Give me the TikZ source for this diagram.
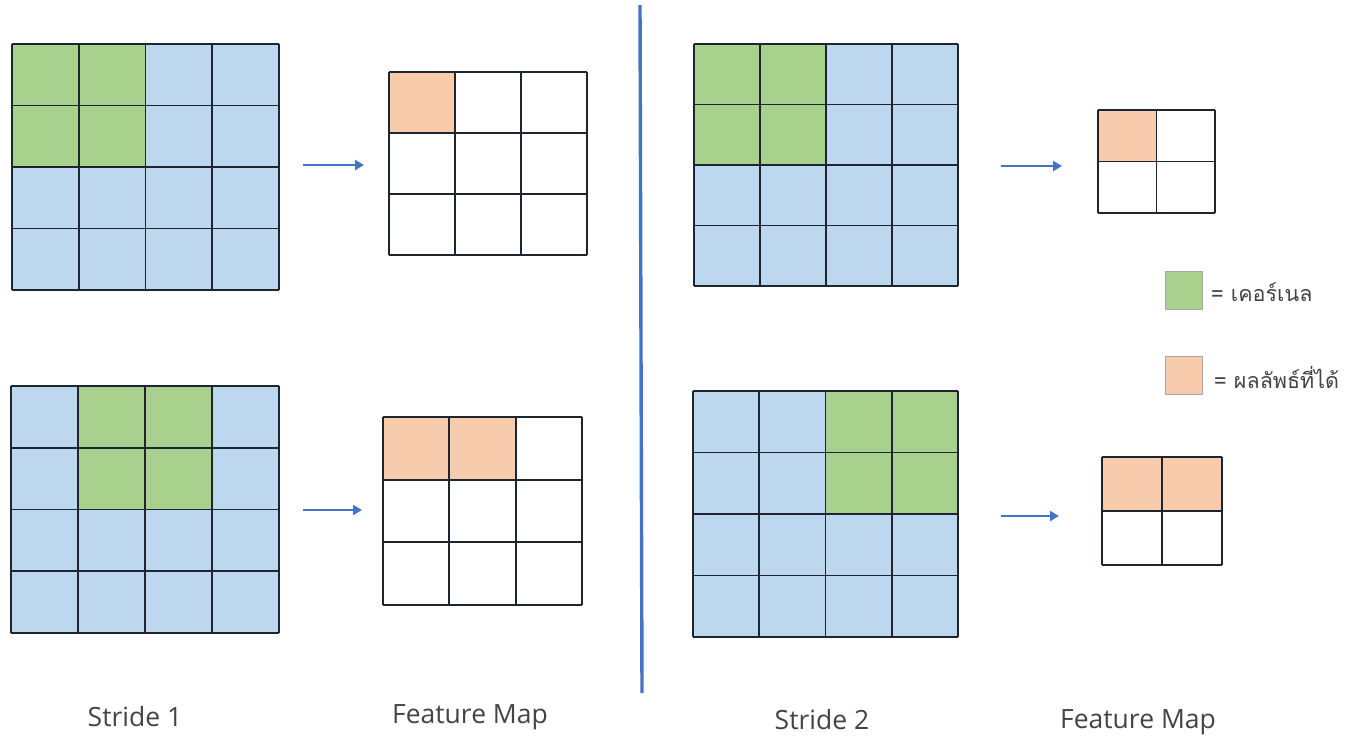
\documentclass[tikz,border=0pt]{standalone}
\usepackage{fontspec}
\setmainfont{Open Sans}
\newfontfamily\thaifont[Script=Thai]{Loma}
\usetikzlibrary{arrows.meta}

\definecolor{cellblue}{HTML}{BDD7EE}
\definecolor{cellgreen}{HTML}{A9D18E}
\definecolor{cellorange}{HTML}{F8CBAD}
\definecolor{gridink}{HTML}{1E2530}
\definecolor{accentblue}{HTML}{4472C4}
\definecolor{labelink}{HTML}{444444}

\tikzset{
  gridlines/.style={draw=gridink, line width=1.8pt},
  gridframe/.style={rectangle, inner sep=0pt, draw=none},
  flowarrow/.style={draw=accentblue, line width=2.9pt,
    -{Triangle[length=9pt,width=10pt]}},
  divider/.style={draw=accentblue, line width=3.4pt},
  caption/.style={font=\fontsize{26.5}{30}\selectfont, text=labelink, inner sep=0pt},
  legendbox/.style={rectangle, inner sep=0pt, minimum width=37pt, minimum height=38pt,
    draw=gray!70, line width=0.6pt},
  legendtext/.style={font=\thaifont\fontsize{21.5}{25}\selectfont, text=labelink,
    anchor=west, inner sep=0pt},
}

% \cellgrid{name}{x0}{y0}{x1}{y1}{cols}{rows}: frame node plus cell lines
\newcommand\cellgrid[7]{%
  \node[gridframe, minimum width={(#4-#2)*1pt}, minimum height={(#5-#3)*1pt}]
    (#1) at ({(#2+#4)/2},{(#3+#5)/2}) {};
  \pgfmathsetmacro\gdx{(#4-#2)/#6}
  \pgfmathsetmacro\gdy{(#5-#3)/#7}
  \foreach \i in {0,...,#6}{\draw[gridlines] ({#2+\i*\gdx},#3) -- ({#2+\i*\gdx},#5);}
  \foreach \j in {0,...,#7}{\draw[gridlines] (#2,{#3+\j*\gdy}) -- (#4,{#3+\j*\gdy});}
}

\begin{document}
\begin{tikzpicture}[x=1pt,y=-1pt]
\useasboundingbox (0,0) rectangle (1351,740);

% ---------- stride 1, first position ----------
\fill[cellblue] (12,44) rectangle (279,290);
\fill[cellgreen] (12,44) rectangle (145.5,167);
\cellgrid{inA}{12}{44}{279}{290}{4}{4}
\fill[cellorange] (389,72) rectangle (455,133);
\cellgrid{fmA}{389}{72}{587}{255}{3}{3}
\coordinate (arrA-s) at (303,165);
\coordinate (arrA-e) at (364,165);
\draw[flowarrow] (arrA-s) -- (arrA-e);

% ---------- stride 1, second position ----------
\fill[cellblue] (11,386) rectangle (279,633);
\fill[cellgreen] (78,386) rectangle (212,510);
\cellgrid{inB}{11}{386}{279}{633}{4}{4}
\fill[cellorange] (383,417) rectangle (515.7,480);
\cellgrid{fmB}{383}{417}{582}{605}{3}{3}
\coordinate (arrB-s) at (303,510);
\coordinate (arrB-e) at (362,510);
\draw[flowarrow] (arrB-s) -- (arrB-e);

% ---------- divider ----------
\coordinate (div-top) at (640,5);
\coordinate (div-bot) at (642,693);
\draw[divider] (div-top) -- (div-bot);

% ---------- stride 2, first position ----------
\fill[cellblue] (694,44) rectangle (958,286);
\fill[cellgreen] (694,44) rectangle (826,165);
\cellgrid{inC}{694}{44}{958}{286}{4}{4}
\fill[cellorange] (1098,110) rectangle (1157,161.5);
\cellgrid{fmC}{1098}{110}{1215}{213}{2}{2}
\coordinate (arrC-s) at (1001,166);
\coordinate (arrC-e) at (1062,166);
\draw[flowarrow] (arrC-s) -- (arrC-e);

% ---------- stride 2, second position ----------
\fill[cellblue] (693,391) rectangle (958,637);
\fill[cellgreen] (825.5,391) rectangle (958,514);
\cellgrid{inD}{693}{391}{958}{637}{4}{4}
\fill[cellorange] (1102,457) rectangle (1222,511);
\cellgrid{fmD}{1102}{457}{1222}{565}{2}{2}
\coordinate (arrD-s) at (1001,516);
\coordinate (arrD-e) at (1059,516);
\draw[flowarrow] (arrD-s) -- (arrD-e);

% ---------- legend ----------
\node[legendbox, fill=cellgreen] (legK) at (1184,290.5) {};
\node[legendtext] (legKtxt) at (1211,292) {= เคอร์เนล};
\node[legendbox, fill=cellorange] (legR) at (1183.5,375.5) {};
\node[legendtext] (legRtxt) at (1214,377) {= ผลลัพธ์ที่ได้};

% ---------- captions ----------
\node[caption] (capS1) at (135,717) {Stride 1};
\node[caption] (capF1) at (470,717) {Feature Map};
\node[caption] (capS2) at (822,720) {Stride 2};
\node[caption] (capF2) at (1138,722) {Feature Map};
\end{tikzpicture}
\end{document}
